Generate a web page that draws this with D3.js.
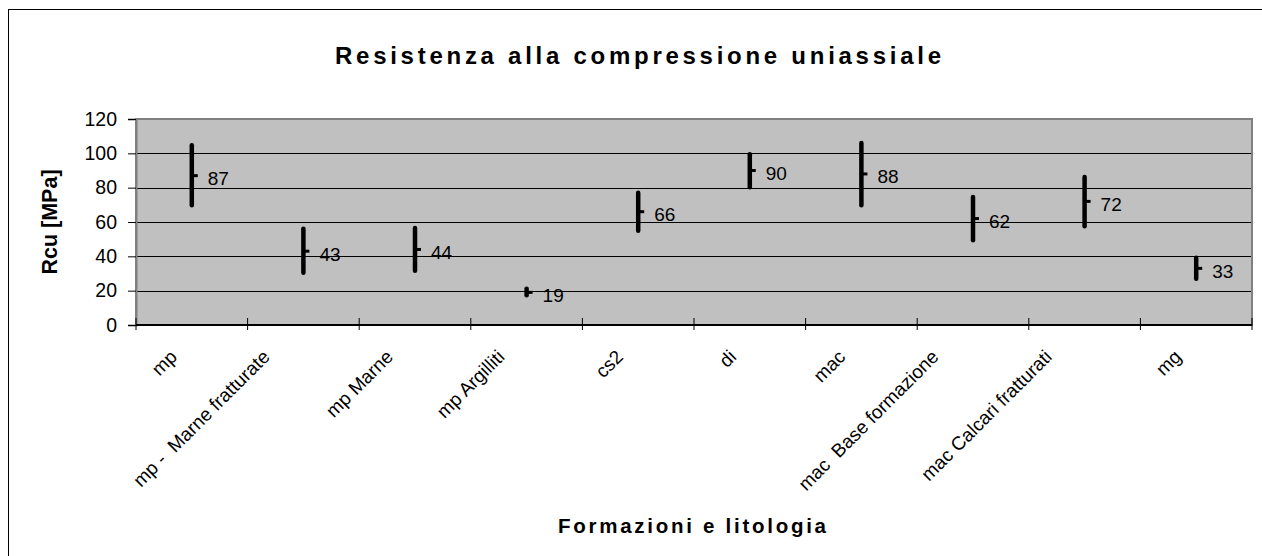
<!DOCTYPE html>
<html>
<head>
<meta charset="utf-8">
<script src="https://cdn.jsdelivr.net/npm/d3@7"></script>
<style>
  body { margin: 0; background: #fff; }
  text { font-family: "Liberation Sans", Arial, sans-serif; fill: #000; }
</style>
</head>
<body>
<div id="chart"></div>
<script>
// categories on the x axis
const categories = [
  "mp", "mp -  Marne fratturate", "mp Marne", "mp Argilliti", "cs2",
  "di", "mac", "mac  Base formazione", "mac Calcari fratturati", "mg"
];
// max / min of each range, and the small mark (shown as label)
const highs = [104.7, 56.1, 56.5, 21.1, 77.1, 99.4, 106, 74.5, 86.2, 39.2];
const lows = [69.7, 30.5, 31.6, 17.4, 54.9, 80.2, 69.7, 49.3, 57.5, 27.0];
const means = [87, 43, 44, 19, 66, 90, 88, 62, 72, 33];
const yTicks = [0, 20, 40, 60, 80, 100, 120];

const W = 1262, H = 556;
const margin = { top: 119, right: 10, bottom: 231, left: 136 };
const plotW = 1252 - margin.left;
const plotH = 325 - margin.top;

const svg = d3.select("#chart")
  .append("svg")
  .attr("width", W)
  .attr("height", H);

// outer chart frame
svg.append("rect")
  .attr("x", 8.5).attr("y", 9.5)
  .attr("width", 1260).attr("height", 600)
  .attr("fill", "#fff")
  .attr("stroke", "#000")
  .attr("stroke-width", 1);

const g = svg.append("g")
  .attr("transform", `translate(${margin.left},${margin.top})`);

const x = d3.scaleBand()
  .domain(categories)
  .range([0, plotW])
  .padding(0);

const y = d3.scaleLinear()
  .domain([0, 120])
  .range([plotH, 0]);

// plot background
g.append("rect")
  .attr("width", plotW)
  .attr("height", plotH)
  .attr("fill", "#c0c0c0");

// gridlines
g.selectAll(".grid")
  .data(yTicks.filter(d => d > 0 && d < 120))
  .enter()
  .append("line")
  .attr("x1", 0)
  .attr("x2", plotW)
  .attr("y1", d => Math.round(y(d)) + 0.5)
  .attr("y2", d => Math.round(y(d)) + 0.5)
  .attr("stroke", "#000")
  .attr("stroke-width", 1);

// plot border (grey)
g.append("rect")
  .attr("width", plotW)
  .attr("height", plotH)
  .attr("fill", "none")
  .attr("stroke", "#808080")
  .attr("stroke-width", 2);

// y axis
const yAxis = g.append("g")
  .call(d3.axisLeft(y).tickValues(yTicks).tickSize(8).tickPadding(11));
yAxis.select(".domain").attr("stroke", "#808080").attr("stroke-width", 2);
yAxis.selectAll(".tick line").attr("stroke", "#000");
yAxis.selectAll(".tick text")
  .style("font-size", "19.5px")
  .attr("fill", "#000");

// x axis line
g.append("line")
  .attr("x1", 0).attr("x2", plotW)
  .attr("y1", plotH).attr("y2", plotH)
  .attr("stroke", "#000")
  .attr("stroke-width", 2);

// x ticks between categories
const edges = categories.map(c => x(c)).concat([plotW]);
g.selectAll(".xtick")
  .data(edges)
  .enter()
  .append("line")
  .attr("x1", d => d).attr("x2", d => d)
  .attr("y1", plotH - 7).attr("y2", plotH + 5)
  .attr("stroke", "#000")
  .attr("stroke-width", 1);

// category labels, rotated
const catLabels = g.selectAll(".cat")
  .data(categories)
  .enter()
  .append("text")
  .attr("class", "cat")
  .style("font-size", "19px")
  .style("white-space", "pre")
  .attr("text-anchor", "end")
  .text(d => d);
catLabels.each(function (d) {
  const len = this.getComputedTextLength();
  const cx = x(d) + x.bandwidth() / 2 - 10.5 - 0.12 * len;
  const cy = plotH + 33;
  d3.select(this).attr("transform", `translate(${cx},${cy}) rotate(-45)`);
});

// high-low ranges
const mid = d => x(d) + x.bandwidth() / 2;
g.selectAll(".range")
  .data(categories)
  .enter()
  .append("line")
  .attr("x1", d => mid(d)).attr("x2", d => mid(d))
  .attr("y1", (d, i) => y(highs[i]))
  .attr("y2", (d, i) => y(lows[i]))
  .attr("stroke", "#000")
  .attr("stroke-width", 4.5)
  .attr("stroke-linecap", "round");

// small mark on the right
g.selectAll(".mean")
  .data(categories)
  .enter()
  .append("line")
  .attr("x1", d => mid(d)).attr("x2", d => mid(d) + 6)
  .attr("y1", (d, i) => y(means[i]))
  .attr("y2", (d, i) => y(means[i]))
  .attr("stroke", "#000")
  .attr("stroke-width", 3);

// value labels
g.selectAll(".val")
  .data(categories)
  .enter()
  .append("text")
  .attr("x", d => mid(d) + 16)
  .attr("y", (d, i) => y(means[i]) + 2.7)
  .attr("dy", "0.35em")
  .style("font-size", "19px")
  .text((d, i) => means[i]);

// title
svg.append("text")
  .attr("x", 638)
  .attr("y", 64)
  .attr("text-anchor", "middle")
  .style("font-size", "24px")
  .style("font-weight", "bold")
  .attr("textLength", 606)
  .attr("lengthAdjust", "spacing")
  .text("Resistenza alla compressione uniassiale");

// y axis title
svg.append("text")
  .attr("transform", `translate(57,222) rotate(-90)`)
  .attr("text-anchor", "middle")
  .style("font-size", "21.5px")
  .style("font-weight", "bold")
  .text("Rcu [MPa]");

// x axis title
svg.append("text")
  .attr("x", 692)
  .attr("y", 533)
  .attr("text-anchor", "middle")
  .style("font-size", "20.5px")
  .style("font-weight", "bold")
  .attr("textLength", 268)
  .attr("lengthAdjust", "spacing")
  .text("Formazioni e litologia");
</script>
</body>
</html>
